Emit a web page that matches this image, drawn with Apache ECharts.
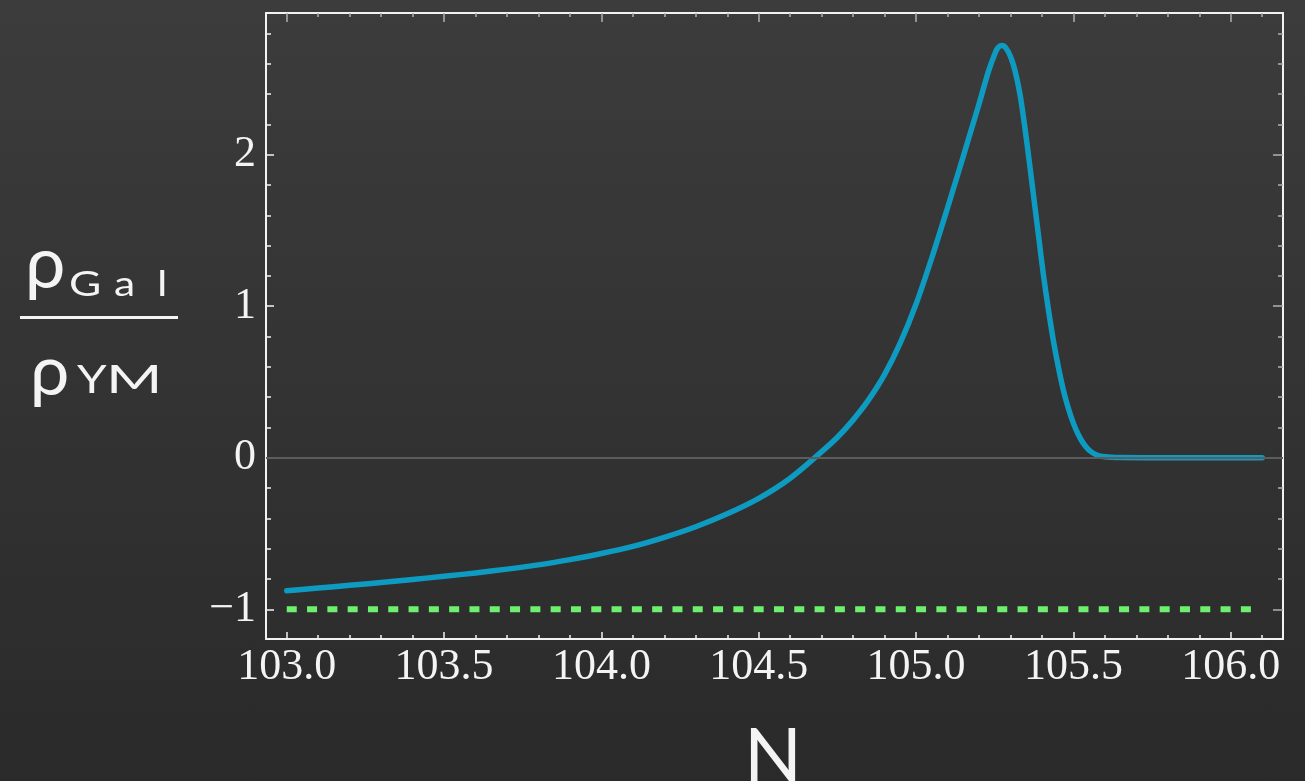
<!DOCTYPE html>
<html>
<head>
<meta charset="utf-8">
<script src="https://cdn.jsdelivr.net/npm/echarts@6/dist/echarts.min.js"></script>
<style>
  html, body { margin: 0; padding: 0; }
  #chart {
    width: 1305px; height: 781px;
    background: linear-gradient(to bottom, #3c3c3c 0%, #333333 50%, #2a2a2a 100%);
  }
</style>
</head>
<body>
<div id="chart"></div>
<script>
// values
const galN = [103.0, 103.1, 103.2, 103.3, 103.4, 103.5, 103.6, 103.7, 103.8, 103.9,
  104.0, 104.1, 104.2, 104.3, 104.4, 104.5, 104.6, 104.7,
  104.75, 104.8, 104.85, 104.9, 104.95, 105.0, 105.05, 105.1, 105.15, 105.2, 105.23,
  105.25, 105.26, 105.272, 105.285, 105.3, 105.314, 105.33, 105.345, 105.36, 105.378, 105.39,
  105.404, 105.42, 105.436, 105.452, 105.468, 105.484, 105.5, 105.515, 105.531, 105.55, 105.574,
  105.6, 105.65, 105.75, 106.1];
const galRho = [-0.877, -0.86, -0.842, -0.823, -0.803, -0.782, -0.76, -0.735, -0.707, -0.672,
  -0.632, -0.585, -0.525, -0.455, -0.37, -0.268, -0.135, 0.04,
  0.135, 0.25, 0.385, 0.55, 0.76, 1.015, 1.32, 1.65, 1.99, 2.335, 2.55,
  2.665, 2.705, 2.72, 2.705, 2.648, 2.557, 2.4, 2.19, 1.95, 1.65, 1.45,
  1.216, 0.985, 0.776, 0.6, 0.447, 0.325, 0.227, 0.155, 0.097, 0.05, 0.018,
  0.006, 0.001, 0.0, 0.0];
const ymN = [103.0, 106.07];
const ymRho = [-1, -1];

const xMajorTicks = [103.0, 103.5, 104.0, 104.5, 105.0, 105.5, 106.0];
const xMinorTicks = [103.0, 103.1, 103.2, 103.3, 103.4, 103.5, 103.6, 103.7, 103.8, 103.9,
  104.0, 104.1, 104.2, 104.3, 104.4, 104.5, 104.6, 104.7, 104.8, 104.9,
  105.0, 105.1, 105.2, 105.3, 105.4, 105.5, 105.6, 105.7, 105.8, 105.9, 106.0, 106.1];
const yMajorTicks = [-1, 0, 1, 2];
const yMinorTicks = [-1.0, -0.8, -0.6, -0.4, -0.2, 0, 0.2, 0.4, 0.6, 0.8, 1.0, 1.2, 1.4, 1.6, 1.8,
  2.0, 2.2, 2.4, 2.6, 2.8];

const xMin = 102.934, xMax = 106.166;
const yMin = -1.196, yMax = 2.935;

const chart = echarts.init(document.getElementById("chart"));

const serif = "'Liberation Serif', 'DejaVu Serif', serif";
const sans = "Lato, 'Noto Sans', sans-serif";
const ink = "#f4f4f4";

function xAxis(pos, ticks, len, color, withLine, withLabel) {
  return {
    type: "value", position: pos, min: xMin, max: xMax,
    axisLine: { show: withLine, onZero: false, lineStyle: { color: "#f2f2f2", width: 2 } },
    axisTick: { show: true, inside: true, length: len, customValues: ticks, lineStyle: { color: color, width: 1.5 } },
    axisLabel: withLabel ? {
      show: true, customValues: xMajorTicks, margin: 6,
      color: ink, fontFamily: serif, fontSize: 44,
      formatter: (v) => v.toFixed(1)
    } : { show: false },
    splitLine: { show: false }
  };
}

function yAxis(pos, ticks, len, color, withLine, withLabel) {
  return {
    type: "value", position: pos, min: yMin, max: yMax,
    axisLine: { show: withLine, onZero: false, lineStyle: { color: "#f2f2f2", width: 2 } },
    axisTick: { show: true, inside: true, length: len, customValues: ticks, lineStyle: { color: color, width: 1.5 } },
    axisLabel: withLabel ? {
      show: true, customValues: yMajorTicks, margin: 10,
      color: ink, fontFamily: serif, fontSize: 44,
      formatter: (v) => (v < 0 ? "\u2212" + Math.abs(v) : String(v))
    } : { show: false },
    splitLine: { show: false }
  };
}

chart.setOption({
  backgroundColor: "transparent",
  animation: false,
  grid: { left: 266, top: 13, right: 22, bottom: 142 },
  xAxis: [
    xAxis("bottom", xMajorTicks, 7, "#f2f2f2", true, true),
    xAxis("bottom", xMinorTicks, 4, "#f2f2f2", false, false),
    xAxis("top", xMajorTicks, 9, "#b0b0b0", true, false),
    xAxis("top", xMinorTicks, 4, "#b0b0b0", false, false)
  ],
  yAxis: [
    yAxis("left", yMajorTicks, 8, "#f2f2f2", true, true),
    yAxis("left", yMinorTicks, 5, "#f2f2f2", false, false),
    yAxis("right", yMajorTicks, 10, "#b0b0b0", true, false),
    yAxis("right", yMinorTicks, 5, "#b0b0b0", false, false)
  ],
  series: [
    {
      name: "YM",
      type: "line",
      xAxisIndex: 0, yAxisIndex: 0,
      data: ymN.map((n, i) => [n, ymRho[i]]),
      showSymbol: false,
      lineStyle: { color: "#6ef06e", width: 6, type: [10, 10.3], cap: "butt" },
      markLine: {
        silent: true, symbol: "none", label: { show: false },
        lineStyle: { color: "#5c5c5c", width: 2, type: "solid" },
        data: [{ yAxis: 0 }]
      },
      z: 2
    },
    {
      name: "Gal",
      type: "line",
      xAxisIndex: 0, yAxisIndex: 0,
      data: galN.map((n, i) => [n, galRho[i]]),
      showSymbol: false,
      smooth: 0.3,
      lineStyle: { color: "#0e9bc2", width: 5.5, cap: "round", join: "round" },
      z: 3
    }
  ],
  graphic: [
    // y axis title: rho_Gal / rho_YM
    { type: "text", left: 25, top: 229, style: { text: "\u03c1", font: "72px " + sans, fill: ink } },
    { type: "text", left: 69, top: 268, style: { text: "G", font: "34px " + sans, fill: ink }, scaleX: 1.3 },
    { type: "text", left: 114, top: 268, style: { text: "a", font: "34px " + sans, fill: ink }, scaleX: 1.25 },
    { type: "text", left: 157, top: 268, style: { text: "l", font: "34px " + sans, fill: ink }, scaleX: 1.3 },
    { type: "rect", shape: { x: 20, y: 316, width: 158, height: 3 }, style: { fill: ink } },
    { type: "text", left: 30, top: 337, style: { text: "\u03c1", font: "70px " + sans, fill: ink } },
    { type: "text", left: 77, top: 362, style: { text: "Y", font: "38px " + sans, fill: ink }, scaleX: 1.25 },
    { type: "text", left: 106, top: 362, style: { text: "M", font: "38px " + sans, fill: ink }, scaleX: 1.6 },
    // x axis title
    { type: "text", left: 744, top: 719, style: { text: "N", font: "76px " + sans, fill: ink } }
  ]
});
</script>
</body>
</html>
